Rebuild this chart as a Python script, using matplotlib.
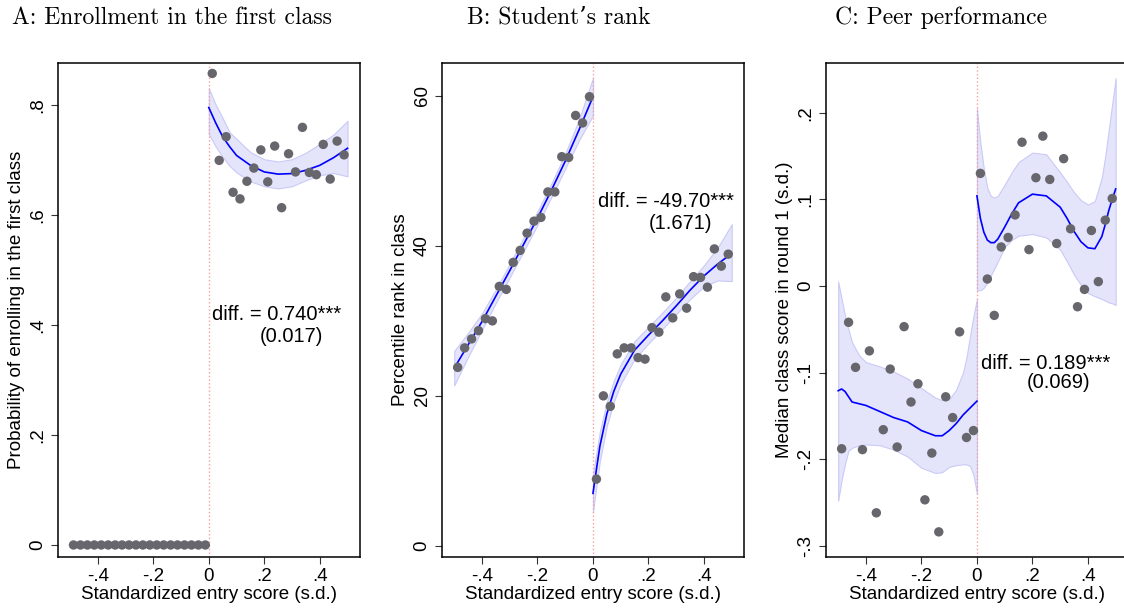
import matplotlib
matplotlib.use("Agg")
import matplotlib.pyplot as plt

plt.rcParams['font.family'] = ['Liberation Sans', 'DejaVu Sans']
plt.rcParams['font.size'] = 13.5

# bin centres (standardized entry score)
bins_left = [-0.4875, -0.4625, -0.4375, -0.4125, -0.3875, -0.3625, -0.3375, -0.3125, -0.2875, -0.2625,
             -0.2375, -0.2125, -0.1875, -0.1625, -0.1375, -0.1125, -0.0875, -0.0625, -0.0375, -0.0125]
bins_right = [0.0125, 0.0375, 0.0625, 0.0875, 0.1125, 0.1375, 0.1625, 0.1875, 0.2125, 0.2375,
              0.2625, 0.2875, 0.3125, 0.3375, 0.3625, 0.3875, 0.4125, 0.4375, 0.4625, 0.4875]

# Panel A: enrollment in the first class
a_left = [0, 0, 0, 0, 0, 0, 0, 0, 0, 0, 0, 0, 0, 0, 0, 0, 0, 0, 0, 0]
a_right = [0.857, 0.699, 0.742, 0.641, 0.629, 0.661, 0.685, 0.718, 0.660, 0.725,
           0.613, 0.711, 0.678, 0.759, 0.677, 0.673, 0.728, 0.665, 0.734, 0.709]
a_fitx_l = [-0.5, 0.0]
a_fit_l = [0.0, 0.0]
a_fitx_r = [0.0, 0.025, 0.05, 0.075, 0.1, 0.15, 0.2, 0.25, 0.3, 0.35, 0.4, 0.45, 0.5]
a_fit_r = [0.795, 0.767, 0.742, 0.724, 0.708, 0.690, 0.678, 0.674, 0.675, 0.681, 0.690, 0.704, 0.721]
a_hi_r = [0.830, 0.800, 0.776, 0.750, 0.738, 0.714, 0.701, 0.697, 0.701, 0.713, 0.729, 0.746, 0.771]
a_lo_r = [0.747, 0.724, 0.705, 0.689, 0.677, 0.661, 0.652, 0.648, 0.652, 0.663, 0.672, 0.676, 0.670]

# Panel B: student's rank
b_left = [23.8, 26.4, 27.6, 28.7, 30.3, 30.0, 34.6, 34.2, 37.8, 39.4,
          41.7, 43.3, 43.8, 47.2, 47.2, 51.9, 51.8, 57.4, 56.4, 59.9]
b_right = [8.9, 20.0, 18.6, 25.6, 26.4, 26.4, 25.1, 24.9, 29.1, 28.5,
           33.2, 30.4, 33.6, 31.7, 35.9, 35.8, 34.5, 39.6, 37.3, 38.9]
b_fitx_l = [-0.5, -0.45, -0.4, -0.35, -0.3, -0.25, -0.2, -0.15, -0.1, -0.05, 0.0]
b_fit_l = [23.7, 26.8, 29.9, 33.3, 36.7, 40.2, 43.7, 47.4, 51.3, 55.5, 59.9]
b_hi_l = [26.0, 28.4, 31.0, 34.2, 37.6, 41.1, 44.6, 48.3, 52.3, 56.9, 62.4]
b_lo_l = [21.4, 25.2, 28.8, 32.4, 35.8, 39.3, 42.8, 46.5, 50.3, 54.1, 57.4]
b_fitx_r = [0.0, 0.0125, 0.025, 0.05, 0.075, 0.1, 0.15, 0.2, 0.25, 0.3, 0.35, 0.4, 0.45, 0.5]
b_fit_r = [7.0, 10.2, 13.3, 17.6, 20.6, 22.9, 26.1, 28.1, 30.0, 32.0, 34.1, 36.0, 37.6, 39.0]
b_hi_r = [9.5, 12.4, 15.3, 19.2, 22.0, 24.2, 27.3, 29.2, 31.1, 33.1, 35.3, 37.4, 39.8, 42.9]
b_lo_r = [4.5, 8.0, 11.3, 16.0, 19.2, 21.6, 24.9, 27.0, 28.9, 30.9, 32.9, 34.6, 35.4, 35.3]

# Panel C: peer performance
c_left = [-0.188, -0.042, -0.094, -0.189, -0.075, -0.262, -0.166, -0.096, -0.186, -0.047,
          -0.134, -0.113, -0.247, -0.193, -0.284, -0.128, -0.152, -0.053, -0.175, -0.167]
c_right = [0.130, 0.008, -0.034, 0.045, 0.056, 0.082, 0.166, 0.042, 0.125, 0.173,
           0.123, 0.049, 0.147, 0.066, -0.024, -0.004, 0.064, 0.005, 0.076, 0.101]
c_fitx_l = [-0.5, -0.4875, -0.475, -0.4625, -0.45, -0.425, -0.4, -0.35, -0.3, -0.25,
            -0.2, -0.15, -0.125, -0.1, -0.075, -0.05, -0.0375, -0.025, -0.0125, 0.0]
c_fit_l = [-0.121, -0.119, -0.122, -0.128, -0.134, -0.136, -0.138, -0.145, -0.152, -0.157,
           -0.167, -0.173, -0.173, -0.167, -0.159, -0.149, -0.145, -0.141, -0.137, -0.133]
c_hi_l = [0.005, -0.015, -0.035, -0.051, -0.065, -0.080, -0.088, -0.093, -0.099, -0.107,
          -0.118, -0.129, -0.132, -0.131, -0.120, -0.100, -0.082, -0.058, -0.035, -0.015]
c_lo_l = [-0.248, -0.224, -0.205, -0.190, -0.187, -0.184, -0.183, -0.184, -0.189, -0.197,
          -0.210, -0.216, -0.215, -0.209, -0.207, -0.206, -0.206, -0.208, -0.218, -0.240]
c_fitx_r = [0.0, 0.0125, 0.025, 0.0375, 0.05, 0.0625, 0.075, 0.1, 0.125, 0.15, 0.2, 0.25,
            0.3, 0.325, 0.35, 0.375, 0.4, 0.425, 0.45, 0.4625, 0.475, 0.4875, 0.5]
c_fit_r = [0.104, 0.078, 0.062, 0.053, 0.050, 0.050, 0.054, 0.068, 0.083, 0.096, 0.106, 0.104,
           0.091, 0.078, 0.063, 0.051, 0.044, 0.043, 0.057, 0.071, 0.087, 0.100, 0.112]
c_hi_r = [0.205, 0.165, 0.135, 0.113, 0.104, 0.102, 0.104, 0.117, 0.131, 0.143, 0.154, 0.152,
          0.131, 0.120, 0.108, 0.099, 0.094, 0.098, 0.125, 0.150, 0.180, 0.210, 0.240]
c_lo_r = [-0.005, -0.005, -0.002, 0.004, 0.012, 0.020, 0.028, 0.045, 0.053, 0.058, 0.060, 0.056,
          0.042, 0.028, 0.013, 0.001, -0.008, -0.012, -0.015, -0.017, -0.019, -0.020, -0.022]

x_ticks = [-0.4, -0.2, 0, 0.2, 0.4]
x_labels = ['-.4', '-.2', '0', '.2', '.4']

titles = ['A: Enrollment in the first class', 'B: Student\u2019s rank', 'C: Peer performance']
ylabels = ['Probability of enrolling in the first class', 'Percentile rank in class',
           'Median class score in round 1 (s.d.)']
diff_text = [('diff. = 0.740***', '(0.017)'), ('diff. = -49.70***', '(1.671)'), ('diff. = 0.189***', '(0.069)')]

fig = plt.figure(figsize=(11.24, 6.12), dpi=100)

# axes boxes (the third one runs off the right edge, like the source)
lefts = [0.0512, 0.3930, 0.7346]
axes = [fig.add_axes([l, 0.0899, 0.2691, 0.8072]) for l in lefts]

panels = [
    (a_left, a_right, [(a_fitx_l, a_fit_l, None, None), (a_fitx_r, a_fit_r, a_hi_r, a_lo_r)],
     (-0.0218, 0.876), [0, 0.2, 0.4, 0.6, 0.8], ['0', '.2', '.4', '.6', '.8'],
     [(0.011, 0.418), (0.183, 0.378)]),
    (b_left, b_right, [(b_fitx_l, b_fit_l, b_hi_l, b_lo_l), (b_fitx_r, b_fit_r, b_hi_r, b_lo_r)],
     (-1.49, 64.4), [0, 20, 40, 60], ['0', '20', '40', '60'],
     [(0.017, 45.9), (0.201, 43.0)]),
    (c_left, c_right, [(c_fitx_l, c_fit_l, c_hi_l, c_lo_l), (c_fitx_r, c_fit_r, c_hi_r, c_lo_r)],
     (-0.313, 0.2575), [-0.3, -0.2, -0.1, 0, 0.1, 0.2], ['-.3', '-.2', '-.1', '0', '.1', '.2'],
     [(0.013, -0.089), (0.181, -0.112)]),
]

for i, ax in enumerate(axes):
    yl, yr, fits, ylim, yt, ytl, txt_pos = panels[i]

    # confidence bands first, then the fitted lines
    for fx, fy, hi, lo in fits:
        if hi is not None:
            ax.fill_between(fx, lo, hi, facecolor='#e4e4fb', edgecolor='#cacaf6', lw=0.8, zorder=1)
    ax.axvline(0, color='#f4a0a0', ls=':', lw=1.0, zorder=2)
    for fx, fy, hi, lo in fits:
        ax.plot(fx, fy, color='#0000ff', lw=1.2, zorder=3)

    ax.scatter(bins_left + bins_right, yl + yr, s=46, color='#66666c', edgecolors='none', zorder=4)

    ax.set_xlim(-0.545, 0.545)
    ax.set_ylim(*ylim)
    ax.set_xticks(x_ticks)
    ax.set_xticklabels(x_labels)
    ax.set_yticks(yt)
    ax.set_yticklabels(ytl, rotation=90, va='center')
    ax.tick_params(length=5, width=0.8, color='#333333', pad=3)
    for sp in ax.spines.values():
        sp.set_linewidth(1.1)

    ax.set_xlabel('Standardized entry score (s.d.)', labelpad=1)
    ax.set_ylabel(ylabels[i], labelpad=3)

    (x1, y1), (x2, y2) = txt_pos
    ax.text(x1, y1, diff_text[i][0], fontsize=14.5, ha='left', va='center', zorder=5)
    ax.text(x2, y2, diff_text[i][1], fontsize=14.5, ha='left', va='center', zorder=5)

# panel titles in a serif face
title_x = [0.0107, 0.4152, 0.743]
for tx, t in zip(title_x, titles):
    fig.text(tx, 0.961, t, fontsize=17, family=['cmr10', 'DejaVu Serif'], ha='left', va='baseline')

fig.savefig('out.png', dpi=100)
